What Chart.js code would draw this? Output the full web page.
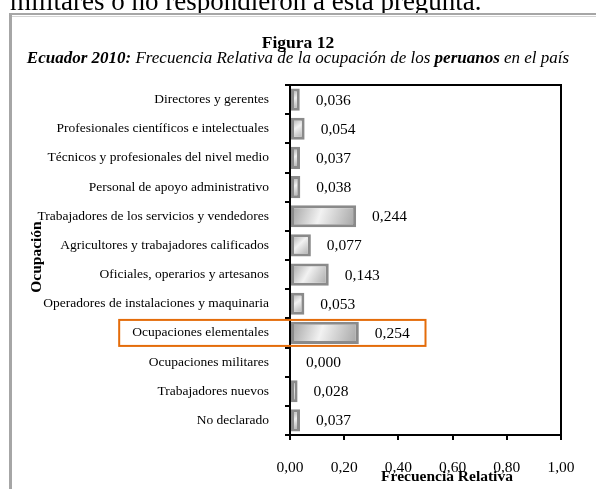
<!DOCTYPE html>
<html>
<head>
<meta charset="utf-8">
<script src="https://cdn.jsdelivr.net/npm/chart.js@4/dist/chart.umd.min.js"></script>
<style>
  html, body { margin: 0; padding: 0; background: #fff; }
  #wrap { position: relative; width: 596px; height: 489px; overflow: hidden; }
  canvas { position: absolute; left: 0; top: 0; }
</style>
</head>
<body>
<div id="wrap"><canvas id="chart" width="596" height="489"></canvas></div>
<script>
// Data
const categories = [
  'Directores y gerentes',
  'Profesionales científicos e intelectuales',
  'Técnicos y profesionales del nivel medio',
  'Personal de apoyo administrativo',
  'Trabajadores de los servicios y vendedores',
  'Agricultores y trabajadores calificados',
  'Oficiales, operarios y artesanos',
  'Operadores de instalaciones y maquinaria',
  'Ocupaciones elementales',
  'Ocupaciones militares',
  'Trabajadores nuevos',
  'No declarado'
];
const frecuencia = [0.036, 0.054, 0.037, 0.038, 0.244, 0.077, 0.143, 0.053, 0.254, 0.000, 0.028, 0.037];
const xTicks = [0, 0.2, 0.4, 0.6, 0.8, 1.0];
const highlightIndex = 8; // "Ocupaciones elementales" boxed in orange

const SERIF = "'Liberation Serif', 'Times New Roman', serif";
const fmt = v => v.toFixed(3).replace('.', ',');

// gradient fill like the Excel bars: grey edges, light middle
function barFill(ctx) {
  const chart = ctx.chart;
  const xs = chart.scales.x, ys = chart.scales.y;
  if (!chart.chartArea || !xs || !ys || ctx.type !== 'data') return '#d8d8d8';
  const v = ctx.raw;
  const x0 = xs.getPixelForValue(0);
  const x1 = Math.max(xs.getPixelForValue(v), x0 + 1);
  const yc = ys.getPixelForValue(ctx.dataIndex);
  const g = chart.ctx.createLinearGradient(x0, yc - 11, x1, yc + 11);
  g.addColorStop(0, '#9e9e9e');
  g.addColorStop(0.45, '#f2f2f2');
  g.addColorStop(1, '#a2a2a2');
  return g;
}

const decorations = {
  id: 'decorations',
  beforeDraw(chart) {
    const c = chart.ctx;
    c.save();
    // cut-off line of the surrounding document text
    c.beginPath();
    c.rect(0, 0, 596, 13);
    c.clip();
    c.fillStyle = '#000';
    c.font = '27px ' + SERIF;
    c.textBaseline = 'alphabetic';
    c.textAlign = 'left';
    c.fillText('militares o no respondieron a esta pregunta.', 10, 10);
    c.restore();

    // frame of the figure box
    c.save();
    c.fillStyle = '#a6a6a6';
    c.fillRect(9, 13, 587, 2);
    c.fillRect(9, 13, 3, 476);
    c.fillStyle = '#d4d4d4';
    c.fillRect(12, 16, 584, 1);
    c.restore();
  },
  afterDatasetsDraw(chart) {
    const c = chart.ctx;
    const xs = chart.scales.x, ys = chart.scales.y;
    const area = chart.chartArea;
    c.save();

    // plot border (top / right)
    c.strokeStyle = '#000';
    c.lineWidth = 2;
    c.strokeRect(area.left, area.top, area.right - area.left, area.bottom - area.top);

    // value labels
    c.fillStyle = '#000';
    c.font = '15.5px ' + SERIF;
    c.textAlign = 'left';
    c.textBaseline = 'middle';
    frecuencia.forEach((v, i) => {
      c.fillText(fmt(v), xs.getPixelForValue(v) + 16, ys.getPixelForValue(i) + 1);
    });

    // titles
    c.textAlign = 'center';
    c.textBaseline = 'alphabetic';
    c.font = 'bold 17.5px ' + SERIF;
    c.fillText('Figura 12', 298, 48);

    const runs = [
      ['Ecuador 2010:', 'italic bold 17px ' + SERIF],
      [' Frecuencia Relativa de la ocupación de los ', 'italic 17px ' + SERIF],
      ['peruanos', 'italic bold 17px ' + SERIF],
      [' en el país', 'italic 17px ' + SERIF]
    ];
    let total = 0;
    runs.forEach(r => { c.font = r[1]; total += c.measureText(r[0]).width; });
    let x = 298 - total / 2;
    c.textAlign = 'left';
    runs.forEach(r => { c.font = r[1]; c.fillText(r[0], x, 63); x += c.measureText(r[0]).width; });

    // axis titles
    c.font = 'bold 15.5px ' + SERIF;
    c.textAlign = 'center';
    c.textBaseline = 'middle';
    c.fillText('Frecuencia Relativa', 447, 477);
    c.save();
    c.translate(37, 257);
    c.rotate(-Math.PI / 2);
    c.fillText('Ocupación', 0, 0);
    c.restore();

    // orange highlight box around one row
    const yc = ys.getPixelForValue(highlightIndex);
    c.font = '13.5px ' + SERIF;
    const labelRight = area.left - 5 - 16;
    const lw = c.measureText(categories[highlightIndex]).width;
    const bx0 = labelRight - lw - 13;
    const bx1 = xs.getPixelForValue(0.5);
    c.strokeStyle = '#e46c0a';
    c.lineWidth = 2;
    c.strokeRect(bx0, yc - 13, bx1 - bx0, 26);

    c.restore();
  }
};

new Chart(document.getElementById('chart'), {
  type: 'bar',
  data: {
    labels: categories,
    datasets: [{
      data: frecuencia,
      backgroundColor: barFill,
      borderColor: '#8a8a8a',
      borderWidth: 3,
      borderSkipped: false,
      barPercentage: 0.76,
      categoryPercentage: 1
    }]
  },
  options: {
    indexAxis: 'y',
    responsive: false,
    animation: false,
    devicePixelRatio: 1,
    layout: { padding: { left: 0, right: 35, top: 85, bottom: 0 } },
    plugins: {
      legend: { display: false },
      tooltip: { enabled: false }
    },
    scales: {
      x: {
        min: 0,
        max: 1,
        afterBuildTicks: s => { s.ticks = xTicks.map(v => ({ value: v })); },
        afterFit: s => { s.height = 54; },
        ticks: {
          color: '#000',
          font: { family: SERIF, size: 15.5 },
          padding: 19,
          maxRotation: 0,
          callback: v => Number(v).toFixed(2).replace('.', ',')
        },
        grid: { display: true, drawOnChartArea: false, drawTicks: true, tickLength: 5, color: '#000', lineWidth: 2 },
        border: { display: true, color: '#000', width: 2 }
      },
      y: {
        afterFit: s => { s.width = 290; },
        ticks: {
          color: '#000',
          font: { family: SERIF, size: 13.5 },
          padding: 16,
          autoSkip: false
        },
        grid: { display: true, offset: true, drawOnChartArea: false, drawTicks: true, tickLength: 5, color: '#000', lineWidth: 2 },
        border: { display: true, color: '#000', width: 2 }
      }
    }
  },
  plugins: [decorations]
});
</script>
</body>
</html>
